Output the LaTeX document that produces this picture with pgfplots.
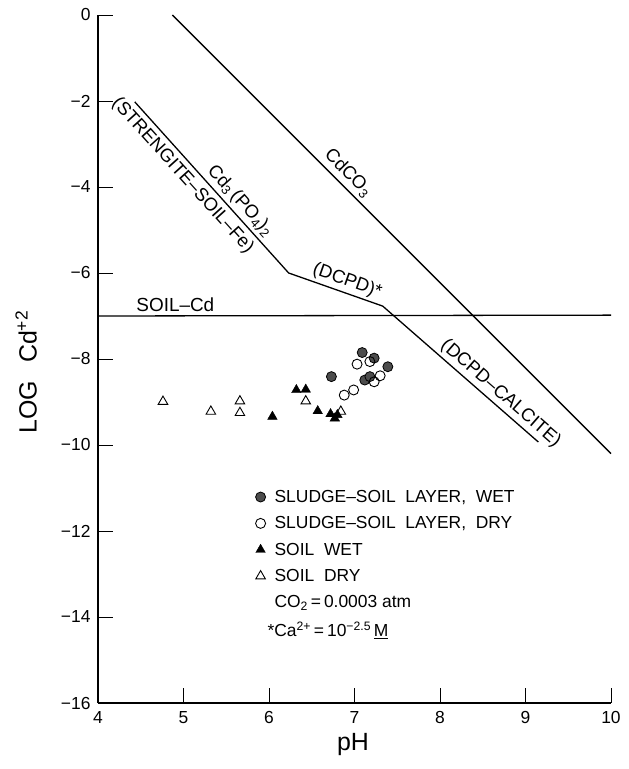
\documentclass[border=0pt]{standalone}
\usepackage{fontspec}
\setmainfont{Liberation Sans}
\usepackage{pgfplots}
\pgfplotsset{compat=1.18}
\begin{document}
\begin{tikzpicture}
\begin{axis}[
  scale only axis, width=513bp, height=688bp,
  xmin=4, xmax=10, ymin=-16, ymax=0,
  axis lines=left, axis line style={-, line width=1.1bp},
  tick align=inside, major tick length=15bp,
  tick style={line width=0.9bp, black},
  xtick={4,5,6,7,8,9,10}, ytick={-16,-14,-12,-10,-8,-6,-4,-2,0},
  yticklabels={−16,−14,−12,−10,−8,−6,−4,−2,0},
  ticklabel style={font=\fontsize{17.5}{19}\selectfont},
  yticklabel style={xshift=-4bp},
  xticklabel style={yshift=-5bp},
  /pgf/number format/assume math mode=true,
  xlabel={pH}, ylabel={LOG\hspace{18bp}Cd\textsuperscript{+2}},
  label style={font=\fontsize{25}{27}\selectfont},
  xlabel style={at={(axis description cs:0.497,-0.061)}, anchor=center},
  ylabel style={at={(axis description cs:-0.140,0.481)}, anchor=center},
  clip=false,
  legend style={at={(axis cs:5.80,-11.0)}, anchor=north west, draw=none, fill=none,
    font=\fontsize{17.5}{19}\selectfont, row sep=8.7bp, inner sep=0pt,
    /tikz/every odd column/.append style={column sep=7bp}},
  legend cell align=left,
]
\coordinate (O) at (axis cs:4,-16);
% lines
\addplot[forget plot, black, line width=1.3bp] coordinates {(4.87,0) (10,-10.2)};
\addplot[forget plot, black, line width=1.3bp] coordinates {(4.43,-2.02) (6.23,-6.0) (7.33,-6.77) (9.15,-9.93)};
\addplot[forget plot, black, line width=1.3bp] coordinates {(4,-7.0) (10,-6.98)};
% data
\addplot[only marks, mark=*, mark size=5bp, mark options={fill=black!70, draw=black, line width=0.8bp}]
 coordinates {(6.73,-8.41) (7.09,-7.85) (7.23,-7.98) (7.39,-8.18) (7.12,-8.49) (7.18,-8.41)};
\addlegendentry{SLUDGE–SOIL\ \ LAYER,\ \ WET}
\addplot[only marks, mark=o, mark size=5bp, mark options={draw=black, line width=0.9bp}]
 coordinates {(6.88,-8.84) (6.99,-8.72) (7.03,-8.12) (7.18,-8.06) (7.30,-8.39) (7.23,-8.53)};
\addlegendentry{SLUDGE–SOIL\ \ LAYER,\ \ DRY}
\addplot[only marks, mark=triangle*, mark size=5.5bp, mark options={fill=black, draw=black}]
 coordinates {(6.04,-9.34) (6.32,-8.72) (6.43,-8.71) (6.57,-9.21) (6.72,-9.28) (6.77,-9.38) (6.80,-9.30)};
\addlegendentry{SOIL\ \ WET}
\addplot[only marks, mark=triangle, mark size=5.5bp, mark options={draw=black, line width=0.9bp}]
 coordinates {(4.76,-8.99) (5.32,-9.22) (5.66,-8.98) (5.66,-9.25) (6.43,-8.98) (6.84,-9.22)};
\addlegendentry{SOIL\ \ DRY}
\addlegendimage{empty legend}
\addlegendentry{CO\textsubscript{2}\,=\,0.0003 atm}
\addlegendimage{empty legend}
\addlegendentry{\hspace*{-7bp}*Ca\textsuperscript{2+}\,=\,10\textsuperscript{−2.5}\,\underline{M}}
% labels
\node[rotate=-45.2, anchor=south, inner sep=3bp, font=\fontsize{18.5}{20}\selectfont] at (axis cs:6.83,-3.86) {CdCO\textsubscript{3}};
\node[rotate=-48, anchor=south, inner sep=3bp, font=\fontsize{18.5}{20}\selectfont] at (axis cs:5.56,-4.51) {Cd\textsubscript{3}\,(PO\textsubscript{4})\textsubscript{2}};
\node[rotate=-48, anchor=north, inner sep=5bp, font=\fontsize{18.5}{20}\selectfont] at (axis cs:5.11,-3.52) {(STRENGITE–SOIL–Fe)};
\node[rotate=-19.4, anchor=south, inner sep=3bp, font=\fontsize{18.5}{20}\selectfont] at (axis cs:6.87,-6.45) {(DCPD)*};
\node[rotate=-41.1, anchor=south, inner sep=3bp, font=\fontsize{18.5}{20}\selectfont] at (axis cs:8.62,-9.01) {(DCPD–CALCITE)};
\node[anchor=south west, inner sep=4bp, font=\fontsize{19}{21}\selectfont] at (axis cs:4.40,-7.0) {SOIL–Cd};
\end{axis}
\path (O) ++(-98bp,-66bp) rectangle ++(629bp,769bp);
\end{tikzpicture}
\end{document}
